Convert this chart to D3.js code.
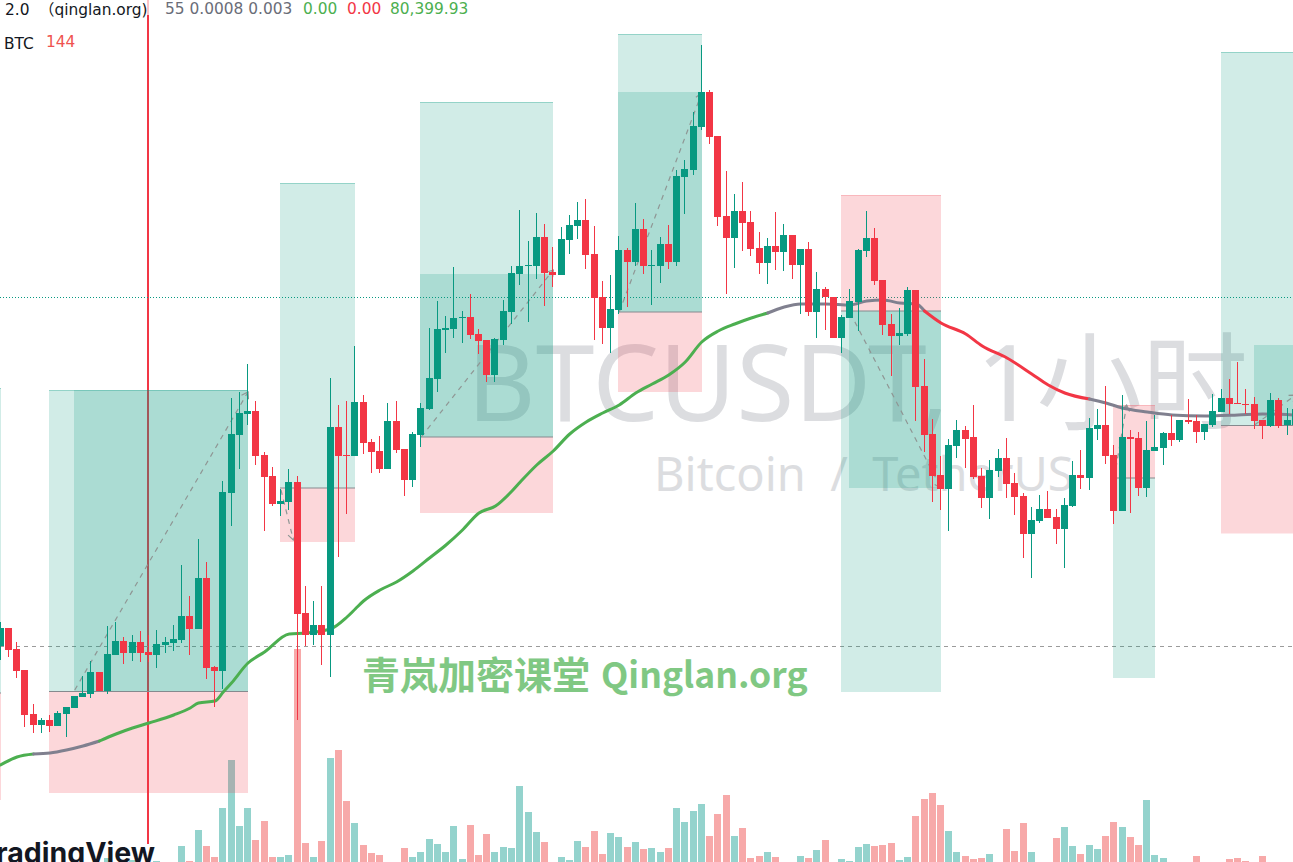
<!DOCTYPE html>
<html><head><meta charset="utf-8">
<style>html,body{margin:0;padding:0;background:#fff;overflow:hidden}svg{display:block}</style>
<script src="https://cdn.jsdelivr.net/npm/d3@7"></script>
</head><body><div id="chart"></div>
<script>
const opens=[354,372,351,330,286,275,280,274,286,292,303,306,328,309,345,359,347,358,348,345,355,357,360,384,371,422,333,329,507,565,586,589,545,524,496,498,518,387,365,375,365,573,545,544,598,558,549,531,579,551,520,565,591,621,670,671,682,683,666,660,625,660,688,726,734,734,763,728,725,760,774,780,746,703,672,690,750,738,771,734,734,756,738,823,830,873,908,864,784,762,789,778,752,737,754,748,765,735,751,688,711,703,662,682,698,749,762,720,676,664,666,710,614,566,525,511,554,570,563,524,502,529,542,517,504,466,479,491,483,471,494,525,522,571,575,545,489,563,562,512,549,552,567,560,580,579,568,575,588,602,597,596,596,580,574,600,575,575];
const closes=[372,350,329,285,275,280,274,287,293,304,307,328,309,346,359,347,358,347,345,356,358,361,384,371,422,332,329,508,566,587,589,544,523,496,499,518,386,365,375,365,573,544,544,598,557,548,531,579,550,520,566,592,622,671,672,682,683,665,659,625,661,689,727,734,735,763,727,725,761,775,780,745,702,672,691,750,738,771,734,735,756,738,824,831,874,908,863,783,762,789,777,751,737,754,748,765,735,751,688,711,703,662,683,699,750,762,719,675,664,667,710,613,565,524,511,555,570,561,523,502,530,542,516,503,466,480,491,482,471,495,525,522,572,575,544,489,563,561,512,550,553,567,560,580,578,568,576,589,602,596,596,595,579,574,600,574,580,591];
const highs=[378,372,358,330,296,282,285,289,293,304,324,339,328,374,378,363,365,369,365,370,363,375,435,404,461,438,334,519,602,608,636,599,548,533,511,531,524,414,399,414,622,595,599,654,605,561,564,597,599,551,568,597,672,699,684,733,689,706,671,660,662,700,734,790,759,787,776,753,773,785,798,801,774,719,725,764,752,797,781,750,763,775,830,840,888,955,910,864,829,806,818,789,768,762,788,776,765,751,758,728,713,703,685,711,751,789,772,720,686,692,713,710,641,581,544,561,580,574,595,532,540,551,562,527,507,493,505,509,491,502,539,550,582,591,614,555,605,570,568,579,585,568,585,580,601,585,576,606,611,621,638,611,603,580,607,602,592,600];
const lows=[340,343,322,273,267,267,268,274,263,292,303,302,309,306,345,336,339,338,338,332,347,349,357,345,371,321,293,311,474,531,575,535,469,494,484,490,280,354,355,335,323,443,486,544,546,527,527,531,547,504,513,553,590,608,647,662,657,661,646,618,618,655,676,715,678,721,694,713,725,746,761,731,660,656,647,686,693,734,726,695,717,731,734,786,825,870,856,774,706,732,749,744,726,716,730,729,721,686,684,662,670,662,647,682,669,743,715,665,624,655,664,579,548,498,490,469,542,532,521,492,481,523,502,485,442,422,477,482,456,432,493,511,510,560,536,476,489,487,504,503,549,535,554,558,576,557,560,573,588,586,596,586,571,561,573,572,565,575];
const volumes=[0,0,0,0,0,0,0,0,0,0,0,0,0,4,0,0,2,0,0,1,0,0,16,1,32,16,5,54,102,36,54,22,41,5,5,7,213,19,5,21,104,112,61,39,17,9,7,0,0,14,5,10,23,18,10,36,3,37,7,28,10,15,14,76,50,30,20,0,5,2,21,15,31,8,29,25,15,20,13,14,10,14,54,40,51,58,26,48,67,26,34,4,6,10,5,0,0,6,4,12,22,0,3,1,15,18,16,17,19,2,5,46,63,69,57,31,10,6,3,4,8,0,33,11,39,10,0,0,24,35,16,8,17,13,26,40,35,25,17,62,7,4,0,0,0,6,0,0,0,3,4,1,0,6,0,0,0,0];
const maBars=[0,2,4,6,8,10,12,14,16,18,21,23,24,26,27,28,30,32,35,37,40,42,43,44,46,48,50,52,54,56,58,60,62,63,65,67,69,71,73,75,77,79,81,83,85,87,89,91,93,95,97,100,103,105,107,109,111,112,114,117,119,122,125,127,129,132,134,136,139,142,146,150,153,157];
const maVals=[235,243,246,247,250,254,259,266,272,277,285,292,297,299,308,317,337,348,366,367,371,383,391,399,410,418,429,442,455,470,487,494,509,518,535,549,566,578,587,595,607,616,625,638,658,669,676,682,687,693,696,696,695,699,700,697,696,689,677,666,654,642,626,615,607,601,597,592,588,585,584,585,586,585];
const maSegments=[[0,4,"#4caf50"],[4,12,"#80808f"],[12,93,"#4caf50"],[93,112,"#80808f"],[112,132,"#f23645"],[132,157,"#80808f"]];
// position boxes: first bar, last bar, top, entry, bottom, kind, shaded first bar, shaded top, shaded bottom
const boxFrom=[-6,6,34,51,75,102,135,148];
const boxTo=[0,30,43,67,85,114,140,160];
const boxTop=[612,610,817,898,966,805,595,948];
const boxEntry=[307,308.5,512,563,688,689,522,574.5];
const boxBottom=[200,207,458,487,608,308,322,466.5];
const boxKind=["long","long","long","long","long","short","short","long"];
const shadeFrom=[null,9,null,51,75,103,null,152];
const shadeTop=[null,610,null,726,908,689,null,655];
const shadeBottom=[null,308.5,null,563,688,512,null,574.5];
const diagBars=[[9,30],[34,35.5],[51,67],[75,85],[103,114],[135,136.5],[152,157]];
const diagVals=[[310,608],[510,460],[563,730],[688,907],[687,512],[522,595],[575,605]];
const dottedLevel=702.5, dashedLevel=353.5, cursorBar=18;
const watermarkMain="BTCUSDT, 1小时", watermarkSub="Bitcoin  /  TetherUS", brandCjk="青岚加密课堂", brandLatin="Qinglan.org";

const W=1293,H=862;
const x=d3.scaleLinear().domain([0,100]).range([0.5,825.5]);
const y=d3.scaleLinear().domain([1000,138]).range([0,862]);
const vol=d3.scaleLinear().domain([0,213]).range([862,649]);
const barLeft=i=>Math.floor(x(i)-3.5), wickX=i=>barLeft(i)+3;
const UP="#089981",DOWN="#f23645";
const svg=d3.select("#chart").append("svg").attr("width",W).attr("height",H);
svg.append("rect").attr("width",W).attr("height",H).attr("fill","#fff");
const defs=svg.append("defs");
defs.append("marker").attr("id","hook").attr("markerUnits","userSpaceOnUse").attr("markerWidth",12).attr("markerHeight",12)
 .attr("refX",8).attr("refY",5).attr("orient","auto").append("path").attr("d","M2,1L8,5L2,9").attr("fill","none").attr("stroke","#8f9694").attr("stroke-width",1.2);

// watermark
svg.append("text").attr("x",467).attr("y",421).attr("font-family","'Noto Sans','Noto Sans CJK SC'").attr("font-size",105.6).attr("fill","#dcdde0").text(watermarkMain);
svg.append("text").attr("x",654).attr("y",491).attr("font-family","'Noto Sans'").attr("font-size",47).attr("fill","#dcdde0").style("white-space","pre").text(watermarkSub);

// volume
const idx=d3.range(volumes.length);
svg.append("g").selectAll("rect").data(idx.filter(i=>volumes[i]>0)).join("rect")
 .attr("x",i=>barLeft(i)).attr("width",7).attr("y",i=>vol(volumes[i])).attr("height",i=>H-vol(volumes[i]))
 .attr("fill",i=>closes[i]>=opens[i]?"#94d3cd":"#f7a9a9");

// cursor and level lines
svg.append("rect").attr("x",wickX(cursorBar)-1).attr("width",2).attr("y",0).attr("height",844).attr("fill",DOWN);
svg.append("line").attr("x1",0).attr("x2",W).attr("y1",y(dottedLevel)).attr("y2",y(dottedLevel)).attr("stroke",UP).attr("stroke-dasharray","1 2").attr("stroke-width",1);
svg.append("line").attr("x1",0).attr("x2",W).attr("y1",y(dashedLevel)).attr("y2",y(dashedLevel)).attr("stroke","#9b9b9b").attr("stroke-dasharray","4 4").attr("stroke-width",1);

// position boxes
const gBox=svg.append("g");
const TEAL="rgba(8,153,129,0.19)",PINK="rgba(242,54,69,0.2)";
boxFrom.forEach((f,k)=>{
  const l=wickX(f), r=wickX(boxTo[k])+1, w=r-l;
  const a=y(boxTop[k]), m=y(boxEntry[k]), b=y(boxBottom[k]);
  const long=boxKind[k]==="long";
  gBox.append("rect").attr("x",l).attr("y",a).attr("width",w).attr("height",m-a).attr("fill",long?TEAL:PINK);
  gBox.append("rect").attr("x",l).attr("y",m).attr("width",w).attr("height",b-m).attr("fill",long?PINK:TEAL);
  if(shadeFrom[k]!==null){
    const sl=wickX(shadeFrom[k]);
    gBox.append("rect").attr("x",sl).attr("y",y(shadeTop[k])).attr("width",r-sl).attr("height",y(shadeBottom[k])-y(shadeTop[k])).attr("fill",TEAL);
  }
  gBox.append("line").attr("x1",l).attr("x2",r).attr("y1",a+0.5).attr("y2",a+0.5).attr("stroke",long?"rgba(8,153,129,0.3)":"rgba(242,54,69,0.2)");
  gBox.append("line").attr("x1",l).attr("x2",r).attr("y1",m).attr("y2",m).attr("stroke","#858a8e");
});

// dashed diagonals
svg.append("g").selectAll("line").data(diagBars.map((d,k)=>k)).join("line")
 .attr("x1",k=>x(diagBars[k][0])).attr("x2",k=>x(diagBars[k][1]))
 .attr("y1",k=>y(diagVals[k][0])).attr("y2",k=>y(diagVals[k][1]))
 .attr("stroke","#8f9694").attr("stroke-width",1.2).attr("stroke-dasharray","5 5").attr("marker-end","url(#hook)");

// moving average
const maLine=d3.line().x(i=>x(maBars[i])).y(i=>y(maVals[i])).curve(d3.curveMonotoneX);
maSegments.forEach(s=>{
  const pts=d3.range(maBars.length).filter(i=>maBars[i]>=s[0]&&maBars[i]<=s[1]);
  svg.append("path").attr("d",maLine(pts)).attr("fill","none").attr("stroke",s[2]).attr("stroke-width",3).attr("stroke-linecap","round");
});

// candles
const gC=svg.append("g");
gC.selectAll("rect.w").data(idx).join("rect").attr("class","w")
 .attr("x",i=>wickX(i)).attr("width",1).attr("y",i=>y(highs[i])).attr("height",i=>y(lows[i])-y(highs[i]))
 .attr("fill",i=>closes[i]>=opens[i]?UP:DOWN);
gC.selectAll("rect.b").data(idx).join("rect").attr("class","b")
 .attr("x",i=>barLeft(i)).attr("width",7).attr("y",i=>y(Math.max(opens[i],closes[i])))
 .attr("height",i=>Math.max(1,y(Math.min(opens[i],closes[i]))-y(Math.max(opens[i],closes[i]))))
 .attr("fill",i=>closes[i]>=opens[i]?UP:DOWN);

// brand text
svg.append("text").attr("x",362).attr("y",689).attr("font-family","'Noto Sans CJK SC'").attr("font-weight",700).attr("font-size",38).attr("fill","#80c883").text(brandCjk);
svg.append("text").attr("x",601).attr("y",688).attr("font-family","'Noto Sans CJK SC'").attr("font-weight",700).attr("font-size",35.5).attr("fill","#80c883").text(brandLatin);
svg.append("text").attr("x",155).attr("y",863).attr("text-anchor","end").attr("font-family","Inter").attr("font-weight",700).attr("font-size",28.5).attr("fill","#131722").text("TradingView");

// legend
svg.append("rect").attr("x",0).attr("y",0).attr("width",152).attr("height",15).attr("fill","#fff").attr("fill-opacity",0.7);
const legend=[[5,15,"2.0","#131722"],[39,15,"（qinglan.org)","#131722"],[165,14,"55 0.0008 0.003","#6a6d78"],[303,14,"0.00","#4caf50"],[347,14,"0.00","#f23645"],[390,14,"80,399.93","#4caf50"],[4,49,"BTC","#131722"],[46,47,"144","#ef5350"]];
svg.append("g").selectAll("text").data(legend).join("text").attr("x",d=>d[0]).attr("y",d=>d[1])
 .attr("font-family","'DejaVu Sans','Noto Sans CJK SC'").attr("font-size",15.4).attr("fill",d=>d[3]).text(d=>d[2]);
</script></body></html>
